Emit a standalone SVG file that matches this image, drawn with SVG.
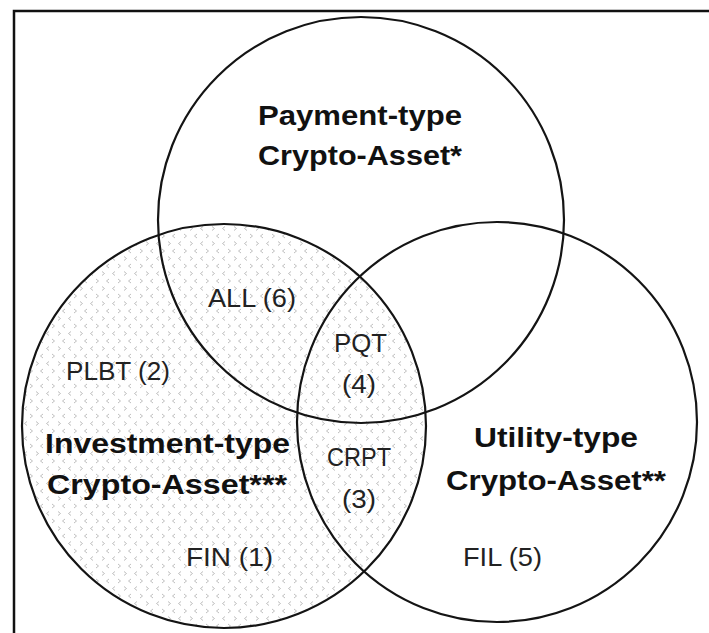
<svg xmlns="http://www.w3.org/2000/svg" width="709" height="633" viewBox="0 0 709 633">
<style>
.c{fill:none;stroke:#141414;stroke-width:2.2}
.b{font-family:"Liberation Sans",Arial,sans-serif;font-weight:bold;font-size:28px;fill:#111}
.r{font-family:"Liberation Sans",Arial,sans-serif;font-size:26px;fill:#222}
.ch{fill:none;stroke:#b4b4b4;stroke-width:0.85}
</style>
<defs>
<pattern id="conf" patternUnits="userSpaceOnUse" width="22" height="15">
<path class="ch" d="M5,1.5 L2.5,3.5 L5,5.5"/>
<path class="ch" d="M14,1.5 L16.5,3.5 L14,5.5"/>
<path class="ch" d="M8,9 L10.5,11 L8,13"/>
<path class="ch" d="M21,9 L18.5,11 L21,13"/>
</pattern>
</defs>
<rect width="709" height="633" fill="#fff"/>
<path d="M14,645 V11 H720" fill="none" stroke="#111" stroke-width="2.5"/>
<g id="investment">
<circle cx="224" cy="426" r="202" fill="#fff"/>
<circle cx="224" cy="426" r="202" fill="url(#conf)"/>
<circle class="c" cx="224" cy="426" r="202"/>
<text class="b" x="45" y="453" textLength="245" lengthAdjust="spacingAndGlyphs">Investment-type</text>
<text class="b" x="47" y="494" textLength="240" lengthAdjust="spacingAndGlyphs">Crypto-Asset***</text>
</g>
<g id="payment">
<circle class="c" cx="361" cy="220" r="203"/>
<text class="b" x="258" y="125" textLength="204" lengthAdjust="spacingAndGlyphs">Payment-type</text>
<text class="b" x="258" y="165" textLength="204" lengthAdjust="spacingAndGlyphs">Crypto-Asset*</text>
</g>
<g id="utility">
<circle class="c" cx="497" cy="422" r="200"/>
<text class="b" x="474" y="447" textLength="164" lengthAdjust="spacingAndGlyphs">Utility-type</text>
<text class="b" x="446" y="490" textLength="220" lengthAdjust="spacingAndGlyphs">Crypto-Asset**</text>
</g>
<g id="connectors"></g>
<g id="all"><text class="r" x="208" y="307" textLength="88" lengthAdjust="spacingAndGlyphs">ALL (6)</text></g>
<g id="pqt">
<text class="r" x="334" y="352" textLength="53" lengthAdjust="spacingAndGlyphs">PQT</text>
<text class="r" x="342" y="393" textLength="34" lengthAdjust="spacingAndGlyphs">(4)</text>
</g>
<g id="plbt"><text class="r" x="66" y="380" textLength="104" lengthAdjust="spacingAndGlyphs">PLBT (2)</text></g>
<g id="crpt">
<text class="r" x="327" y="466" textLength="64" lengthAdjust="spacingAndGlyphs">CRPT</text>
<text class="r" x="342" y="508" textLength="34" lengthAdjust="spacingAndGlyphs">(3)</text>
</g>
<g id="fin"><text class="r" x="186" y="566" textLength="87" lengthAdjust="spacingAndGlyphs">FIN (1)</text></g>
<g id="fil"><text class="r" x="463" y="566" textLength="79" lengthAdjust="spacingAndGlyphs">FIL (5)</text></g>
</svg>
